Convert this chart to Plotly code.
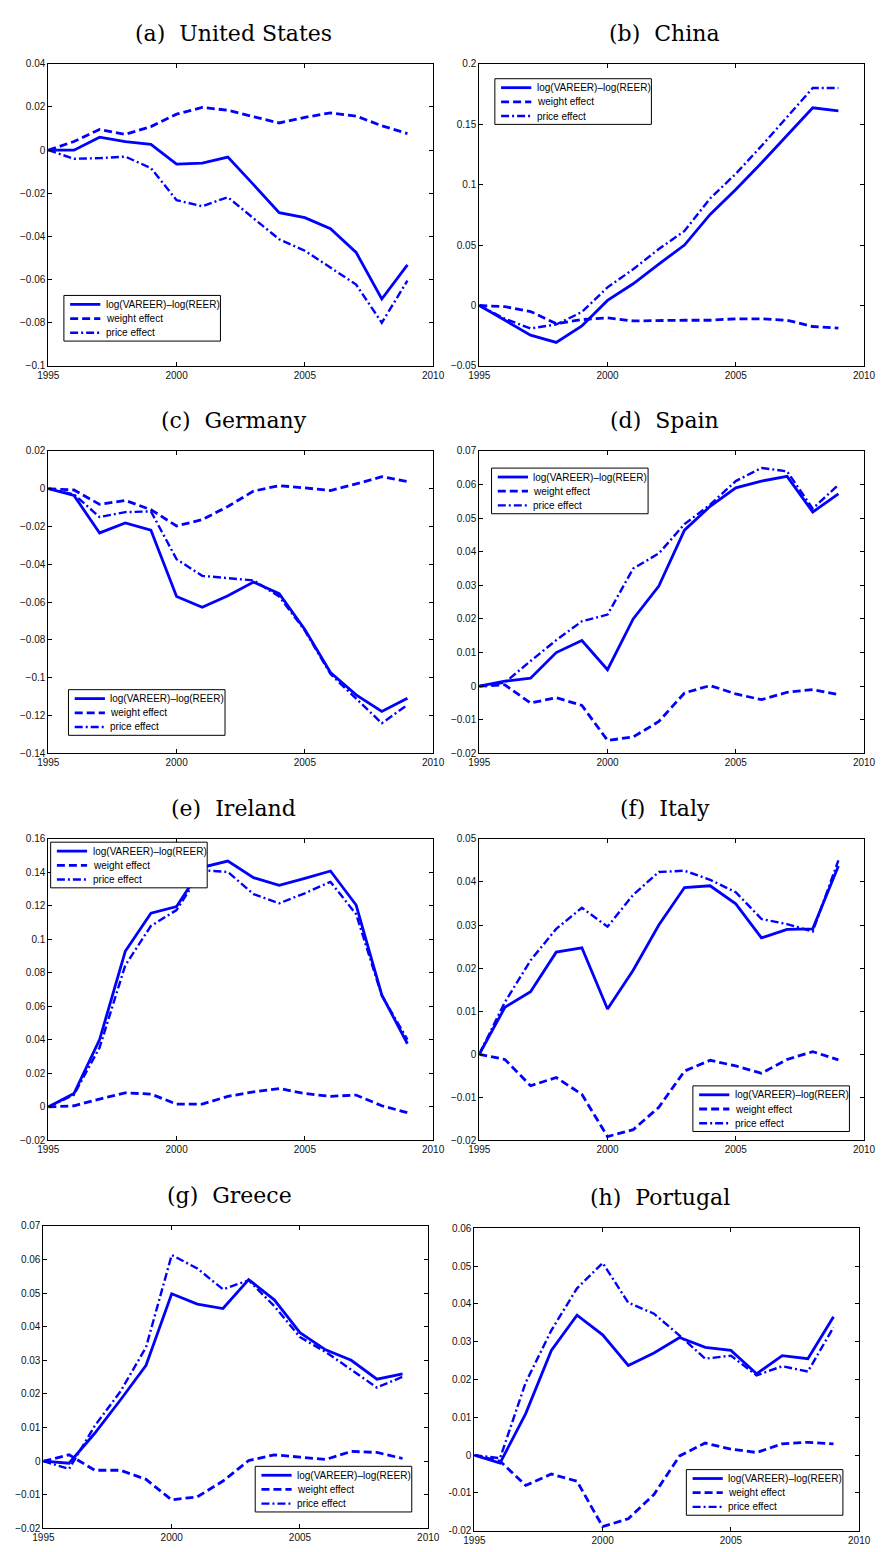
import plotly.graph_objects as go

W, H = 889, 1552

# ---------------- data ----------------
years = list(range(1995, 2010))
x_tickvals = [1995, 2000, 2005, 2010]
x_ticktext = ["1995", "2000", "2005", "2010"]
series_names = ["log(VAREER)\u2013log(REER)", "weight effect", "price effect"]

titles = ["(a)\u00a0 United States", "(b)\u00a0 China", "(c)\u00a0 Germany", "(d)\u00a0 Spain",
          "(e)\u00a0 Ireland", "(f)\u00a0 Italy", "(g)\u00a0 Greece", "(h)\u00a0 Portugal"]

us_total = [0, 0, 0.006, 0.004, 0.0027, -0.0065, -0.006, -0.0032, -0.016, -0.029, -0.0313, -0.0364, -0.0474, -0.069, -0.0532]
us_weight = [0, 0.004, 0.0096, 0.0073, 0.0109, 0.0167, 0.0198, 0.0185, 0.0155, 0.0126, 0.0152, 0.0173, 0.0158, 0.0113, 0.0077]
us_price = [0, -0.004, -0.0037, -0.003, -0.0083, -0.0232, -0.026, -0.0218, -0.0316, -0.0413, -0.0466, -0.0543, -0.0623, -0.080, -0.0605]
us_yticks = [0.04, 0.02, 0, -0.02, -0.04, -0.06, -0.08, -0.1]

cn_total = [0, -0.012, -0.0245, -0.0306, -0.0169, 0.0042, 0.018, 0.0343, 0.050, 0.0754, 0.096, 0.118, 0.141, 0.1636, 0.161]
cn_weight = [0, -0.001, -0.005, -0.015, -0.0117, -0.0103, -0.0128, -0.0122, -0.0122, -0.0122, -0.011, -0.011, -0.0122, -0.0174, -0.0188]
cn_price = [0, -0.011, -0.019, -0.0157, -0.0054, 0.015, 0.030, 0.0467, 0.0617, 0.0886, 0.109, 0.132, 0.156, 0.180, 0.180]
cn_yticks = [0.2, 0.15, 0.1, 0.05, 0, -0.05]

de_total = [0, -0.0036, -0.0234, -0.0181, -0.022, -0.057, -0.0627, -0.0566, -0.0494, -0.0555, -0.0744, -0.0972, -0.109, -0.1178, -0.1108]
de_weight = [0, -0.0007, -0.0083, -0.0062, -0.0111, -0.0197, -0.0164, -0.0094, -0.0013, 0.0016, 0.0004, -0.001, 0.0025, 0.0063, 0.0037]
de_price = [0, -0.003, -0.015, -0.0124, -0.012, -0.0373, -0.0461, -0.0473, -0.0485, -0.057, -0.075, -0.098, -0.111, -0.124, -0.1143]
de_yticks = [0.02, 0, -0.02, -0.04, -0.06, -0.08, -0.1, -0.12, -0.14]

es_total = [0, 0.0015, 0.0024, 0.010, 0.0136, 0.0049, 0.020, 0.0298, 0.0464, 0.0535, 0.059, 0.061, 0.0624, 0.0518, 0.0572]
es_weight = [0, 0.0004, -0.005, -0.0034, -0.0057, -0.0161, -0.0151, -0.0105, -0.002, 0.0002, -0.0023, -0.004, -0.0018, -0.001, -0.0025]
es_price = [0, 0.0011, 0.0075, 0.0137, 0.0193, 0.0213, 0.035, 0.0395, 0.0482, 0.054, 0.061, 0.0649, 0.0639, 0.0528, 0.0599]
es_yticks = [0.07, 0.06, 0.05, 0.04, 0.03, 0.02, 0.01, 0, -0.01, -0.02]

ie_total = [0, 0.008, 0.0402, 0.0929, 0.1156, 0.1196, 0.1430, 0.1467, 0.1368, 0.1323, 0.1364, 0.1408, 0.1205, 0.0668, 0.0377]
ie_weight = [0, 0.0007, 0.0047, 0.0084, 0.0077, 0.0017, 0.0017, 0.0063, 0.009, 0.011, 0.008, 0.0063, 0.0071, 0.0007, -0.0034]
ie_price = [0, 0.0073, 0.0355, 0.0845, 0.108, 0.1175, 0.1413, 0.1402, 0.127, 0.1215, 0.1275, 0.1343, 0.115, 0.0665, 0.0402]
ie_yticks = [0.16, 0.14, 0.12, 0.1, 0.08, 0.06, 0.04, 0.02, 0, -0.02]

it_total = [0, 0.0109, 0.0145, 0.0237, 0.0247, 0.0105, 0.0195, 0.030, 0.0387, 0.0391, 0.0349, 0.027, 0.029, 0.0291, 0.0437]
it_weight = [0, -0.0012, -0.0073, -0.0054, -0.0093, -0.0191, -0.0175, -0.0123, -0.0039, -0.0014, -0.0027, -0.0044, -0.0012, 0.0006, -0.0013]
it_price = [0, 0.0121, 0.0218, 0.0291, 0.034, 0.0296, 0.037, 0.0423, 0.0426, 0.0405, 0.0376, 0.0314, 0.0302, 0.0285, 0.045]
it_yticks = [0.05, 0.04, 0.03, 0.02, 0.01, 0, -0.01, -0.02]

gr_total = [0, -0.0006, 0.0083, 0.0182, 0.0285, 0.0498, 0.0467, 0.0454, 0.054, 0.048, 0.0382, 0.0331, 0.030, 0.0244, 0.026]
gr_weight = [0, 0.0019, -0.0027, -0.0027, -0.0054, -0.0115, -0.0106, -0.0059, 0.0002, 0.0019, 0.0012, 0.0005, 0.0029, 0.0026, 0.0008]
gr_price = [0, -0.0023, 0.0105, 0.0207, 0.0339, 0.0613, 0.0573, 0.0511, 0.0538, 0.0461, 0.0369, 0.0325, 0.0272, 0.0219, 0.0251]
gr_yticks = [0.07, 0.06, 0.05, 0.04, 0.03, 0.02, 0.01, 0, -0.01, -0.02]

pt_total = [0, -0.0021, 0.011, 0.0277, 0.037, 0.0318, 0.0237, 0.027, 0.0311, 0.0285, 0.0277, 0.0215, 0.0263, 0.0255, 0.0366]
pt_weight = [0, -0.0016, -0.008, -0.005, -0.0069, -0.0189, -0.0168, -0.0104, -0.0002, 0.0032, 0.0016, 0.0007, 0.003, 0.0034, 0.003]
pt_price = [0, -0.0008, 0.0192, 0.0330, 0.0441, 0.0508, 0.0403, 0.0374, 0.0316, 0.0255, 0.0263, 0.0211, 0.0235, 0.0221, 0.0338]
pt_yticks = [0.06, 0.05, 0.04, 0.03, 0.02, 0.01, 0, -0.01, -0.02]

# ---------------- layout (pixels) ----------------
# plot box: left, right, top, bottom ; legend box: left, top
boxes = [
    (38.3, 433.3, 58.3, 362.7), (480.7, 875.7, 58.3, 362.7),
    (38.3, 433.3, 448.3, 753.3), (480.7, 875.7, 448.3, 753.3),
    (38.3, 433.3, 839.3, 1143.3), (480.7, 875.7, 839.3, 1143.3),
    (33.3, 428.3, 1229.3, 1534.3), (475.7, 870.7, 1231.7, 1536.7),
]
legend_pos = [
    (54.3, 291.7), (496.7, 73.3), (59.0, 689.0), (493.3, 465.7),
    (40.7, 842.7), (700.0, 1088.3), (250.7, 1471.7), (693.3, 1475.0),
]

panels = [
    (us_total, us_weight, us_price, us_yticks, True),
    (cn_total, cn_weight, cn_price, cn_yticks, True),
    (de_total, de_weight, de_price, de_yticks, True),
    (es_total, es_weight, es_price, es_yticks, True),
    (ie_total, ie_weight, ie_price, ie_yticks, True),
    (it_total, it_weight, it_price, it_yticks, True),
    (gr_total, gr_weight, gr_price, gr_yticks, True),
    (pt_total, pt_weight, pt_price, pt_yticks, False),
]

BLUE = "#0000ff"
styles = [dict(color=BLUE, width=2.8, dash="solid"),
          dict(color=BLUE, width=2.8, dash="8px,4px"),
          dict(color=BLUE, width=2.4, dash="8px,3px,2px,3px")]
TICKFONT = dict(family="Liberation Sans, Arial, sans-serif", size=10, color="#111111")


def px_x(v):
    return v / W


def px_y(v):
    return 1 - v / H


def label(v, unicode_minus):
    s = "%g" % v
    if unicode_minus:
        s = s.replace("-", "\u2212")
    return s


fig = go.Figure()
layout = dict(width=W, height=H, margin=dict(l=0, r=0, t=0, b=0),
              paper_bgcolor="white", plot_bgcolor="white", showlegend=False)
shapes = []
annotations = []

for i, (tot, wgt, prc, yt, umin) in enumerate(panels):
    k = "" if i == 0 else str(i + 1)
    L, R, T, B = boxes[i]
    for j, ys in enumerate([tot, wgt, prc]):
        fig.add_trace(go.Scatter(x=years, y=ys, mode="lines", name=series_names[j],
                                 line=styles[j], xaxis="x" + k, yaxis="y" + k,
                                 hoverinfo="skip"))
    common = dict(ticks="inside", ticklen=4, tickcolor="black", tickwidth=1,
                  showline=True, linecolor="black", linewidth=1, mirror="ticks",
                  showgrid=False, zeroline=False, tickfont=TICKFONT)
    layout["xaxis" + k] = dict(domain=[px_x(L), px_x(R)], range=[1995, 2010],
                               tickvals=x_tickvals, ticktext=x_ticktext,
                               anchor="y" + k, **common)
    layout["yaxis" + k] = dict(domain=[px_y(B), px_y(T)], range=[min(yt), max(yt)],
                               tickvals=yt, ticktext=[label(v, umin) for v in yt],
                               anchor="x" + k, **common)
    # title
    annotations.append(dict(text=titles[i], xref="paper", yref="paper",
                            x=px_x((L + R) / 2 - 7), y=px_y(T - 31),
                            xanchor="center", yanchor="middle", showarrow=False,
                            font=dict(family="DejaVu Serif, serif", size=22, color="black")))
    # legend box
    lx, ly = legend_pos[i]
    shapes.append(dict(type="rect", xref="paper", yref="paper", layer="above",
                       x0=px_x(lx), x1=px_x(lx + 160.7), y0=px_y(ly), y1=px_y(ly + 46),
                       line=dict(color="black", width=1), fillcolor="white"))
    for j in range(3):
        ry = ly + 9 + j * 14.3
        st = styles[j]
        shapes.append(dict(type="line", xref="paper", yref="paper", layer="above",
                           x0=px_x(lx + 6.4), x1=px_x(lx + 37.4), y0=px_y(ry), y1=px_y(ry),
                           line=dict(color=st["color"], width=st["width"], dash=st["dash"])))
        annotations.append(dict(text=series_names[j], xref="paper", yref="paper",
                                x=px_x(lx + 41), y=px_y(ry), xanchor="left", yanchor="middle",
                                showarrow=False,
                                font=dict(family="Liberation Sans, Arial, sans-serif",
                                          size=10, color="black")))

layout["shapes"] = shapes
layout["annotations"] = annotations
fig.update_layout(**layout)
fig.write_html("out.html")
